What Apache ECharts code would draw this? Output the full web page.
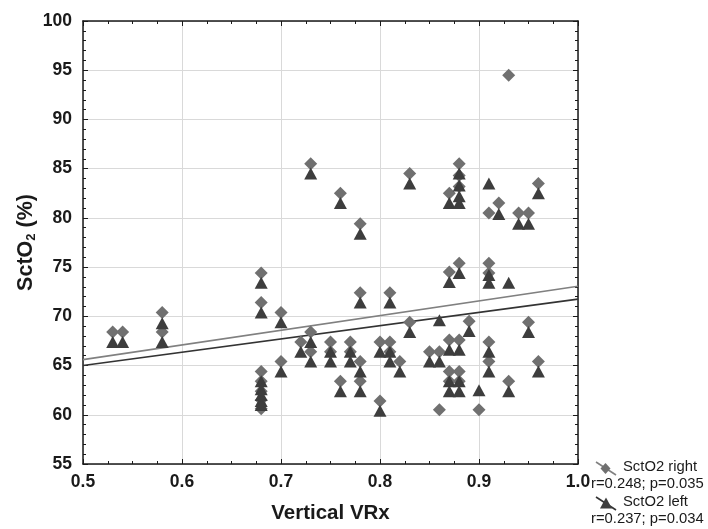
<!DOCTYPE html>
<html>
<head>
<meta charset="utf-8">
<script src="https://cdn.jsdelivr.net/npm/echarts@6/dist/echarts.min.js"></script>
<style>
html,body{margin:0;padding:0;background:#fff;}
#main{width:708px;height:529px;}
</style>
</head>
<body>
<div id="main"></div>
<script>
// SctO2 right (diamonds): [Vertical VRx, SctO2 %]
var sctO2Right = [
  [0.53,68.4],[0.54,68.4],[0.58,70.4],[0.58,68.4],
  [0.68,74.4],[0.68,71.4],[0.68,64.4],[0.68,63.4],[0.68,62.4],[0.68,61.5],[0.68,60.6],
  [0.70,70.4],[0.70,65.4],[0.72,67.4],[0.73,85.5],[0.73,68.4],[0.73,66.4],
  [0.75,67.4],[0.75,66.4],[0.76,82.5],[0.76,63.4],[0.77,67.4],[0.77,66.4],
  [0.78,79.4],[0.78,72.4],[0.78,65.4],[0.78,63.4],[0.80,67.4],[0.80,61.4],
  [0.81,72.4],[0.81,67.4],[0.81,66.4],[0.82,65.4],[0.83,84.5],[0.83,69.4],
  [0.85,66.4],[0.86,66.4],[0.86,60.5],
  [0.87,82.5],[0.87,74.5],[0.87,67.6],[0.87,64.4],[0.87,63.4],
  [0.88,85.5],[0.88,84.3],[0.88,83.2],[0.88,75.4],[0.88,67.6],[0.88,64.4],[0.88,63.4],
  [0.89,69.5],[0.90,60.5],
  [0.91,80.5],[0.91,75.4],[0.91,74.4],[0.91,67.4],[0.91,65.4],[0.92,81.5],
  [0.93,94.5],[0.93,63.4],[0.94,80.5],[0.95,80.5],[0.95,69.4],[0.96,83.5],[0.96,65.4]
];
// SctO2 left (triangles)
var sctO2Left = [
  [0.53,67.4],[0.54,67.4],[0.58,69.3],[0.58,67.4],
  [0.68,73.4],[0.68,70.4],[0.68,63.4],[0.68,62.6],[0.68,62.0],[0.68,61.4],[0.68,61.0],
  [0.70,69.4],[0.70,64.4],[0.72,66.4],[0.73,84.5],[0.73,67.4],[0.73,65.4],
  [0.75,66.4],[0.75,65.4],[0.76,81.5],[0.76,62.4],[0.77,66.4],[0.77,65.4],
  [0.78,78.4],[0.78,71.4],[0.78,64.4],[0.78,62.4],[0.80,66.4],[0.80,60.4],
  [0.81,71.4],[0.81,66.4],[0.81,65.4],[0.82,64.4],[0.83,83.5],[0.83,68.4],
  [0.85,65.4],[0.86,65.4],[0.86,69.6],
  [0.87,81.5],[0.87,73.5],[0.87,66.6],[0.87,63.4],[0.87,62.4],
  [0.88,84.5],[0.88,83.3],[0.88,82.2],[0.88,81.5],[0.88,74.4],[0.88,66.6],[0.88,63.4],[0.88,62.4],
  [0.89,68.5],[0.90,62.5],
  [0.91,83.5],[0.91,74.2],[0.91,73.4],[0.91,66.4],[0.91,64.4],[0.92,80.4],
  [0.93,73.4],[0.93,62.4],[0.94,79.4],[0.95,79.4],[0.95,68.4],[0.96,82.5],[0.96,64.4]
];
// Fitted regression lines (endpoints)
var fitRight = [[0.5,65.6],[1.0,73.05]];
var fitLeft  = [[0.5,65.0],[1.0,71.75]];
var legendNames = ['SctO2 right','SctO2 left'];
var legendStats = ['r=0.248; p=0.035','r=0.237; p=0.034'];

var FONT = '"Liberation Sans", Arial, sans-serif';
var chart = echarts.init(document.getElementById('main'), null, {renderer:'canvas'});

var axisLineStyle = {show:true, lineStyle:{color:'#1a1a1a', width:1.5}};
var gridSplit = {show:true, lineStyle:{color:'#d9d9d9', width:1}};

function xAx(extra){
  return Object.assign({
    type:'value', min:0.5, max:1.0, interval:0.1,
    axisLine: axisLineStyle,
    axisTick:{show:true, inside:true, length:5, lineStyle:{color:'#1a1a1a', width:1}},
    minorTick:{show:true, splitNumber:4, length:3, lineStyle:{color:'#1a1a1a', width:1}},
    splitLine: {show:false}
  }, extra);
}
function yAx(extra){
  return Object.assign({
    type:'value', min:55, max:100, interval:5,
    axisLine: axisLineStyle,
    axisTick:{show:true, inside:true, length:5, lineStyle:{color:'#1a1a1a', width:1}},
    minorTick:{show:true, splitNumber:5, length:3, lineStyle:{color:'#1a1a1a', width:1}},
    splitLine: {show:false}
  }, extra);
}

var option = {
  backgroundColor:'#ffffff',
  animation:false,
  grid:{left:83, right:130, top:21, bottom:64},
  xAxis:[
    xAx({position:'bottom', splitLine:gridSplit,
      axisLabel:{show:true, margin:9, fontFamily:FONT, fontSize:17.5, fontWeight:'bold', color:'#1a1a1a',
        formatter:function(v){return v.toFixed(1);}},
      name:'Vertical VRx', nameLocation:'middle', nameGap:39, nameMoveOverlap:false,
      nameTextStyle:{fontFamily:FONT, fontSize:20.5, fontWeight:'bold', color:'#1a1a1a'}
    }),
    xAx({position:'top', axisLabel:{show:false}})
  ],
  yAxis:[
    yAx({position:'left', splitLine:gridSplit,
      axisLabel:{show:true, margin:11, fontFamily:FONT, fontSize:17.5, fontWeight:'bold', color:'#1a1a1a'},
      name:'{a|SctO}{b|2}{a| (%)}', nameLocation:'middle', nameGap:45, nameMoveOverlap:false,
      nameTextStyle:{color:'#1a1a1a', rich:{
        a:{fontFamily:FONT, fontSize:21.5, fontWeight:'bold', color:'#1a1a1a'},
        b:{fontFamily:FONT, fontSize:13, fontWeight:'bold', color:'#1a1a1a', padding:[10,0,0,0]}
      }}
    }),
    yAx({position:'right', axisLabel:{show:false}})
  ],
  series:[
    {name:'fitRight', type:'line', data:fitRight, symbol:'none', silent:true,
      lineStyle:{color:'#808080', width:1.6}, z:3},
    {name:'fitLeft', type:'line', data:fitLeft, symbol:'none', silent:true,
      lineStyle:{color:'#333333', width:1.6}, z:3},
    {name:'SctO2 right', type:'scatter', data:sctO2Right, symbol:'diamond', symbolSize:[13,13],
      itemStyle:{color:'#707070', opacity:1}, z:4},
    {name:'SctO2 left', type:'scatter', data:sctO2Left, symbol:'triangle', symbolSize:[13,12],
      itemStyle:{color:'#3d3d3d', opacity:1}, z:5}
  ],
  graphic:[
    {type:'line', shape:{x1:596,y1:462,x2:616,y2:475}, style:{stroke:'#808080', lineWidth:1.6}},
    {type:'polygon', shape:{points:[[605.5,463],[610.5,468.5],[605.5,474],[600.5,468.5]]}, style:{fill:'#707070'}},
    {type:'text', left:623, top:459, style:{text:legendNames[0], font:'14.8px '+FONT, fill:'#1a1a1a'}},
    {type:'text', left:591, top:476, style:{text:legendStats[0], font:'14.8px '+FONT, fill:'#1a1a1a'}},
    {type:'line', shape:{x1:596,y1:497,x2:616,y2:510}, style:{stroke:'#333333', lineWidth:1.6}},
    {type:'polygon', shape:{points:[[606,497.5],[612,508.5],[600,508.5]]}, style:{fill:'#3d3d3d'}},
    {type:'text', left:623, top:494, style:{text:legendNames[1], font:'14.8px '+FONT, fill:'#1a1a1a'}},
    {type:'text', left:591, top:511, style:{text:legendStats[1], font:'14.8px '+FONT, fill:'#1a1a1a'}}
  ]
};
chart.setOption(option);
</script>
</body>
</html>
